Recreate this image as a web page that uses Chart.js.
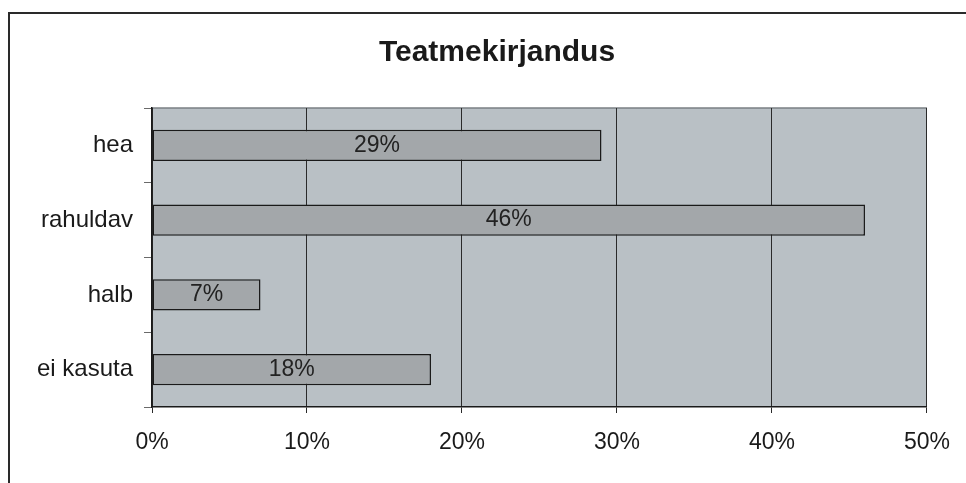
<!DOCTYPE html>
<html>
<head>
<meta charset="utf-8">
<script src="https://cdn.jsdelivr.net/npm/chart.js@4/dist/chart.umd.min.js"></script>
<style>
  html, body { margin: 0; padding: 0; background: #ffffff; }
  canvas { display: block; }
</style>
</head>
<body>
<canvas id="c" width="966" height="483"></canvas>
<script>
const title = "Teatmekirjandus";
const categories = ["hea", "rahuldav", "halb", "ei kasuta"];
const values = [29, 46, 7, 18];
const xTicks = [0, 10, 20, 30, 40, 50];

const FONT = '"Liberation Sans", Arial, Helvetica, sans-serif';

const framePlugin = {
  id: 'frame',
  beforeDraw(chart) {
    const ctx = chart.ctx;
    const a = chart.chartArea;
    ctx.save();
    ctx.fillStyle = '#ffffff';
    ctx.fillRect(0, 0, chart.width, chart.height);
    // outer frame (left and top visible)
    ctx.strokeStyle = '#2a2a2a';
    ctx.lineWidth = 2;
    ctx.beginPath();
    ctx.moveTo(9, chart.height);
    ctx.lineTo(9, 13);
    ctx.lineTo(chart.width, 13);
    ctx.stroke();
    // title, centred over the chart frame
    ctx.fillStyle = '#1a1a1a';
    ctx.font = 'bold 30px ' + FONT;
    ctx.textAlign = 'center';
    ctx.textBaseline = 'middle';
    ctx.fillText(title, 497, 53);
    // plot area background
    ctx.fillStyle = '#b9c0c5';
    ctx.fillRect(a.left, a.top, a.right - a.left, a.bottom - a.top);
    // top border of plot area
    ctx.strokeStyle = '#7a7f83';
    ctx.lineWidth = 1.5;
    ctx.beginPath();
    ctx.moveTo(a.left, a.top);
    ctx.lineTo(a.right, a.top);
    ctx.stroke();
    ctx.restore();
  }
};

const labelPlugin = {
  id: 'barLabels',
  afterDatasetsDraw(chart) {
    const ctx = chart.ctx;
    const meta = chart.getDatasetMeta(0);
    ctx.save();
    ctx.fillStyle = '#222222';
    ctx.font = '23px ' + FONT;
    ctx.textAlign = 'center';
    ctx.textBaseline = 'middle';
    meta.data.forEach((el, i) => {
      const cx = (el.x + el.base) / 2;
      ctx.fillText(values[i] + '%', cx, el.y);
    });
    ctx.restore();
  }
};

new Chart(document.getElementById('c'), {
  type: 'bar',
  data: {
    labels: categories,
    datasets: [{
      data: values,
      backgroundColor: '#a3a7aa',
      borderColor: '#1a1a1a',
      borderWidth: 1.5,
      borderSkipped: false,
      barPercentage: 0.42,
      categoryPercentage: 1.0
    }]
  },
  options: {
    indexAxis: 'y',
    responsive: false,
    animation: false,
    devicePixelRatio: 1,
    layout: { padding: { left: 0, right: 39, top: 108, bottom: 0 } },
    plugins: {
      legend: { display: false },
      tooltip: { enabled: false },
      title: { display: false }
    },
    scales: {
      x: {
        type: 'linear',
        min: 0,
        max: 50,
        afterBuildTicks(scale) { scale.ticks = xTicks.map(v => ({ value: v })); },
        afterFit(scale) { scale.height = 76; },
        ticks: {
          color: '#1a1a1a',
          font: { family: FONT, size: 23 },
          padding: 16,
          callback: v => v + '%'
        },
        grid: {
          color: '#2a2a2a',
          lineWidth: 1,
          tickLength: 6,
          drawTicks: true
        },
        border: { display: true, color: '#1a1a1a', width: 1.5 }
      },
      y: {
        afterFit(scale) { scale.width = 152; },
        ticks: {
          color: '#1a1a1a',
          font: { family: FONT, size: 24 },
          padding: 11
        },
        grid: {
          drawOnChartArea: false,
          drawTicks: true,
          tickLength: 8,
          color: '#6a6a6a'
        },
        border: { display: true, color: '#1a1a1a', width: 1.5 }
      }
    }
  },
  plugins: [framePlugin, labelPlugin]
});
</script>
</body>
</html>
